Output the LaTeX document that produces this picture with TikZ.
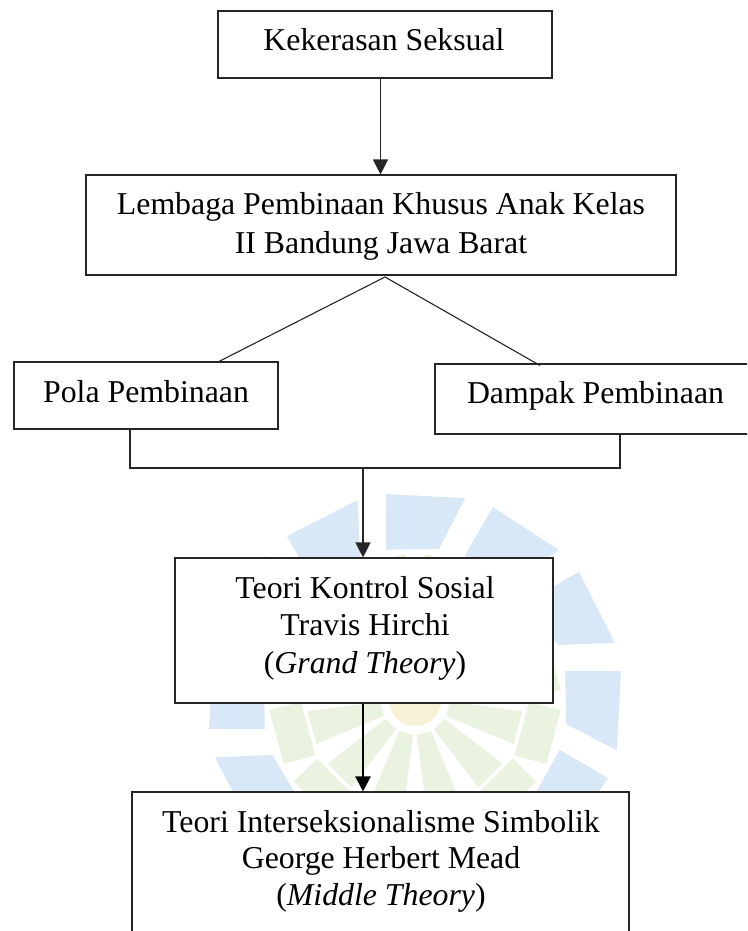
\documentclass[tikz,border=0pt]{standalone}
\usepackage{fontspec}
\setmainfont{Liberation Serif}
\usetikzlibrary{arrows.meta,calc}
\definecolor{wmblue}{HTML}{D8E8F6}
\definecolor{wmgreen}{HTML}{EAF2E0}
\definecolor{wmyellow}{HTML}{F7F1D6}
\tikzset{
  box/.style={draw=black!85, fill=white, line width=1.1pt, inner sep=0pt},
  txt/.style={anchor=base, inner sep=0pt, font=\fontsize{31.8}{37}\selectfont},
  conn/.style={draw=black!85, line width=1.1pt},
  arr/.style={conn, -{Triangle[width=15pt,length=15pt]}},
  thickarr/.style={draw=black, line width=2.2pt, -{Triangle[width=15pt,length=15pt]}}
}
\begin{document}
\begin{tikzpicture}[x=1pt,y=-1pt]
\useasboundingbox (0,0) rectangle (747,931);
\clip (0,0) rectangle (747,931);
\fill[white] (0,0) rectangle (747,931);
% watermark
\begin{scope}[shift={(415,700)}]
  \foreach \a in {0,30,...,330} {
    \fill[wmgreen] (\a+3:35) -- (\a+6:108) -- (\a+24:108) -- (\a+27:35) -- cycle;
    \fill[wmgreen] (\a+1:114) -- (\a+29:114) -- (\a+26:146) -- (\a+4:146) -- cycle;
    \fill[wmblue] (\a-11:153) -- (\a+9:153) -- (\a+14:208) -- (\a-8:208) -- cycle;
  }
  \fill[wmyellow] (-90:110) -- (-78:30) -- (-102:30) -- cycle;
  \fill[wmyellow] (0,0) circle (26);
\end{scope}
% boxes
\node[box, minimum width=334pt, minimum height=67pt] (b1) at (385,44.5) {};
\node[box, minimum width=590pt, minimum height=100pt] (b2) at (381,225) {};
\node[box, minimum width=264pt, minimum height=67pt] (pola) at (146,395.5) {};
\node[box, minimum width=321pt, minimum height=70pt] (dampak) at (595.5,399) {};
\node[box, minimum width=378pt, minimum height=145pt] (b3) at (364,630.5) {};
\node[box, minimum width=497pt, minimum height=176pt] (b4) at (380.5,880) {};
% texts
\node[txt] (t1) at (384,51) {Kekerasan Seksual};
\node[txt] (t2a) at (381,214) {Lembaga Pembinaan Khusus Anak Kelas};
\node[txt] (t2b) at (381,253) {II Bandung Jawa Barat};
\node[txt] (tp) at (146,402) {Pola Pembinaan};
\node[txt] (td) at (595.5,403) {Dampak Pembinaan};
\node[txt] (t3a) at (365,598) {Teori Kontrol Sosial};
\node[txt] (t3b) at (365,635) {Travis Hirchi};
\node[txt] (t3c) at (365,673) {(\textit{Grand Theory})};
\node[txt] (t4a) at (381,832) {Teori Interseksionalisme Simbolik};
\node[txt] (t4b) at (381,868) {George Herbert Mead};
\node[txt] (t4c) at (381,905) {(\textit{Middle Theory})};
% connectors
\draw[arr] ([xshift=-4.5pt]b1.south) -- ([xshift=-4.5pt]b1.south |- b2.north);
\coordinate (apex) at (385,277);
\draw[conn] ([xshift=73pt]pola.north) -- (apex) -- ([xshift=-55.5pt,yshift=-2pt]dampak.north);
\coordinate (jn) at (363,468);
\draw[conn] ([xshift=-16pt]pola.south) |- (jn) -| ([xshift=24.5pt]dampak.south);
\draw[arr] (jn) -- (jn |- b3.north);
\draw[thickarr] ([xshift=-1pt]b3.south) -- ([xshift=-1pt]b3.south |- b4.north);
\end{tikzpicture}
\end{document}
